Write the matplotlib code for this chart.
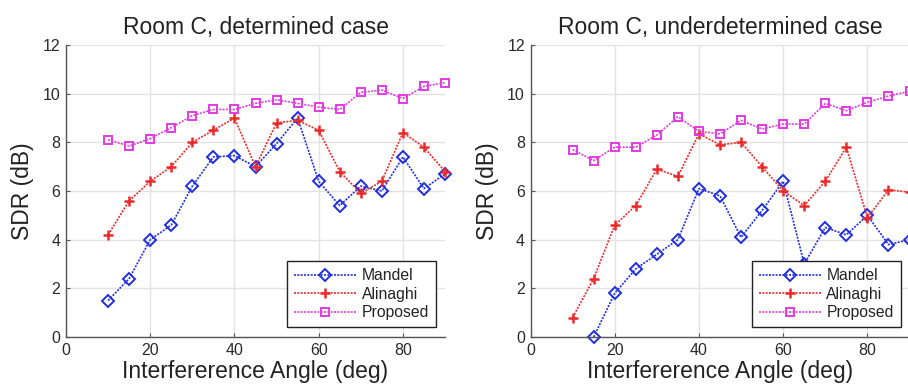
import matplotlib
matplotlib.use("Agg")
import matplotlib.pyplot as plt

plt.rcParams['font.family'] = ['Liberation Sans', 'DejaVu Sans']

angles = [10, 15, 20, 25, 30, 35, 40, 45, 50, 55, 60, 65, 70, 75, 80, 85, 90]

# Room C, determined case
det_mandel = [1.5, 2.4, 4.0, 4.6, 6.2, 7.4, 7.45, 7.0, 7.95, 9.0, 6.4, 5.4, 6.2, 6.0, 7.4, 6.1, 6.7]
det_alinaghi = [4.2, 5.6, 6.4, 7.0, 8.0, 8.5, 9.0, 7.0, 8.8, 8.9, 8.5, 6.8, 5.9, 6.4, 8.4, 7.8, 6.8]
det_proposed = [8.1, 7.85, 8.15, 8.6, 9.1, 9.35, 9.35, 9.6, 9.75, 9.6, 9.45, 9.35, 10.05, 10.15, 9.8, 10.3, 10.45]

# Room C, underdetermined case
und_angles = [10, 15, 20, 25, 30, 35, 40, 45, 50, 55, 60, 65, 70, 75, 80, 85, 90]
und_mandel = [None, 0.0, 1.8, 2.8, 3.4, 4.0, 6.1, 5.8, 4.1, 5.2, 6.4, 3.0, 4.5, 4.2, 5.0, 3.8, 4.0]
und_alinaghi = [0.8, 2.4, 4.6, 5.4, 6.9, 6.6, 8.35, 7.9, 8.0, 7.0, 6.0, 5.4, 6.4, 7.8, 4.9, 6.05, 5.95]
und_proposed = [7.7, 7.25, 7.8, 7.8, 8.3, 9.05, 8.45, 8.35, 8.9, 8.55, 8.75, 8.75, 9.6, 9.3, 9.65, 9.9, 10.1]

titles = ["Room C, determined case", "Room C, underdetermined case"]
series_names = ["Mandel", "Alinaghi", "Proposed"]
xticks = [0, 20, 40, 60, 80]
yticks = [0, 2, 4, 6, 8, 10, 12]

W, H = 908, 390
fig = plt.figure(figsize=(W / 100, H / 100), dpi=100)

ax_w = 379 / W
ax_b = (H - 337) / H
ax_h = (337 - 45) / H
axes = [fig.add_axes([66 / W, ax_b, ax_w, ax_h]),
        fig.add_axes([530.5 / W, ax_b, ax_w, ax_h])]

styles = [
    dict(color="#1f2fe0", marker="D", markersize=5.8, markerfacecolor="none",
         markeredgewidth=1.4),
    dict(color="#ec2a2a", marker="+", markersize=7, markeredgewidth=1.8),
    dict(color="#e23be2", marker="s", markersize=5.8, markerfacecolor="none",
         markeredgewidth=1.4),
]

datasets = [
    (angles, [det_mandel, det_alinaghi, det_proposed]),
    (und_angles, [und_mandel, und_alinaghi, und_proposed]),
]

for ax, title, (xs, series) in zip(axes, titles, datasets):
    for name, ys, st in zip(series_names, series, styles):
        pts = [(x, y) for x, y in zip(xs, ys) if y is not None]
        ax.plot([p[0] for p in pts], [p[1] for p in pts], label=name,
                linestyle=(0, (1.2, 0.8)), linewidth=1.2, clip_on=False, **st)
    ax.set_xlim(0, 90)
    ax.set_ylim(0, 12)
    ax.set_xticks(xticks)
    ax.set_yticks(yticks)
    ax.grid(True, color="#e2e2e2", linewidth=1.0)
    ax.set_axisbelow(True)
    for side in ("top", "right"):
        ax.spines[side].set_visible(False)
    for side in ("left", "bottom"):
        ax.spines[side].set_color("#555555")
        ax.spines[side].set_linewidth(1.0)
    ax.tick_params(direction="in", length=3, width=0.8, color="#555555",
                   labelsize=11.5, labelcolor="#2a2a2a", pad=4)
    ax.set_title(title, fontsize=16.5, color="#222222", pad=8)
    ax.set_xlabel("Interfererence Angle (deg)", fontsize=16.5, color="#222222", labelpad=2)
    ax.set_ylabel("SDR (dB)", fontsize=16.5, color="#222222", labelpad=6)
    leg = ax.legend(loc="lower right", bbox_to_anchor=(0.977, 0.034), fontsize=11.3,
                    frameon=True, fancybox=False, framealpha=1.0, edgecolor="#222222",
                    handlelength=3.95, handletextpad=0.35, borderpad=0.45,
                    labelspacing=0.22, borderaxespad=0.0)
    leg.get_frame().set_linewidth(1.0)
    for t in leg.get_texts():
        t.set_color("#222222")

fig.savefig("out.png", dpi=100)
